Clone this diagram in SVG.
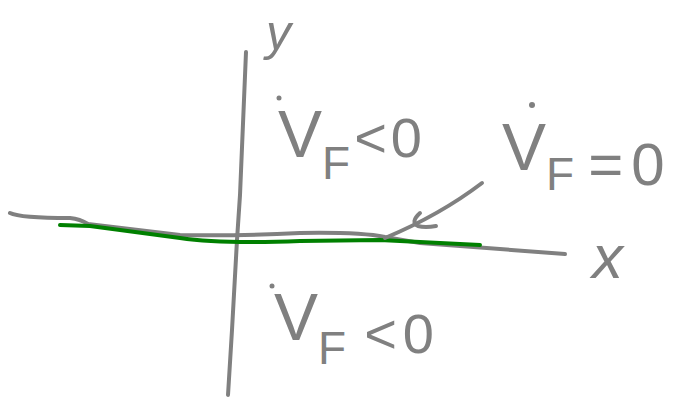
<svg xmlns="http://www.w3.org/2000/svg" width="683" height="398" viewBox="0 0 683 398">
<style>
.s{fill:none;stroke:#808080;stroke-width:4;stroke-linecap:round;stroke-linejoin:round}
.g{fill:none;stroke:#008000;stroke-width:4;stroke-linecap:round;stroke-linejoin:round}
.t{font-family:"Liberation Sans",Arial,sans-serif;fill:#808080}
.d{fill:#808080}
</style>
<rect width="683" height="398" fill="#fff"/>
<g id="connectors">
<path id="x-axis" class="s" d="M10,213 Q20,218 70,218 Q80,219 88,224 L180,235 Q240,236 300,233 Q360,232 385,237 L420,243 L565,254"/>
<path id="y-axis" class="s" d="M246,52 L240,195 L237,240 L232,330 L228,395"/>
<path id="green" class="g" d="M60,225 L90,226 L180,238 Q220,244 300,241 L380,240 L420,242 L480,245"/>
<path id="pointer" class="s" d="M482,183 Q440,215 385,238"/>
<path id="hook" class="s" d="M420,213 Q410,222 418,226 Q425,228 436,226"/>
</g>
<g id="y-label"><text class="t" x="266" y="50" font-size="50" font-style="italic">y</text></g>
<g id="x-label"><text class="t" x="592" y="278" font-size="62" font-style="italic">x</text></g>
<g id="upper">
<circle class="d" cx="279" cy="98" r="2.5"/>
<text class="t" x="278" y="157" font-size="66">V<tspan font-size="46" dy="22">F</tspan><tspan font-size="56" dy="-22" dx="4">&lt;</tspan><tspan font-size="56" dx="4">0</tspan></text>
</g>
<g id="right">
<circle class="d" cx="532" cy="105" r="3"/>
<text class="t" x="502" y="170" font-size="66">V<tspan font-size="46" dy="20">F</tspan><tspan font-size="60" dy="-5" dx="14">=</tspan><tspan font-size="60" dx="8">0</tspan></text>
</g>
<g id="lower">
<circle class="d" cx="272" cy="286" r="2.5"/>
<text class="t" x="274" y="340" font-size="66">V<tspan font-size="46" dy="24">F</tspan><tspan font-size="56" dy="-11" dx="18">&lt;</tspan><tspan font-size="56" dx="6">0</tspan></text>
</g>
</svg>
